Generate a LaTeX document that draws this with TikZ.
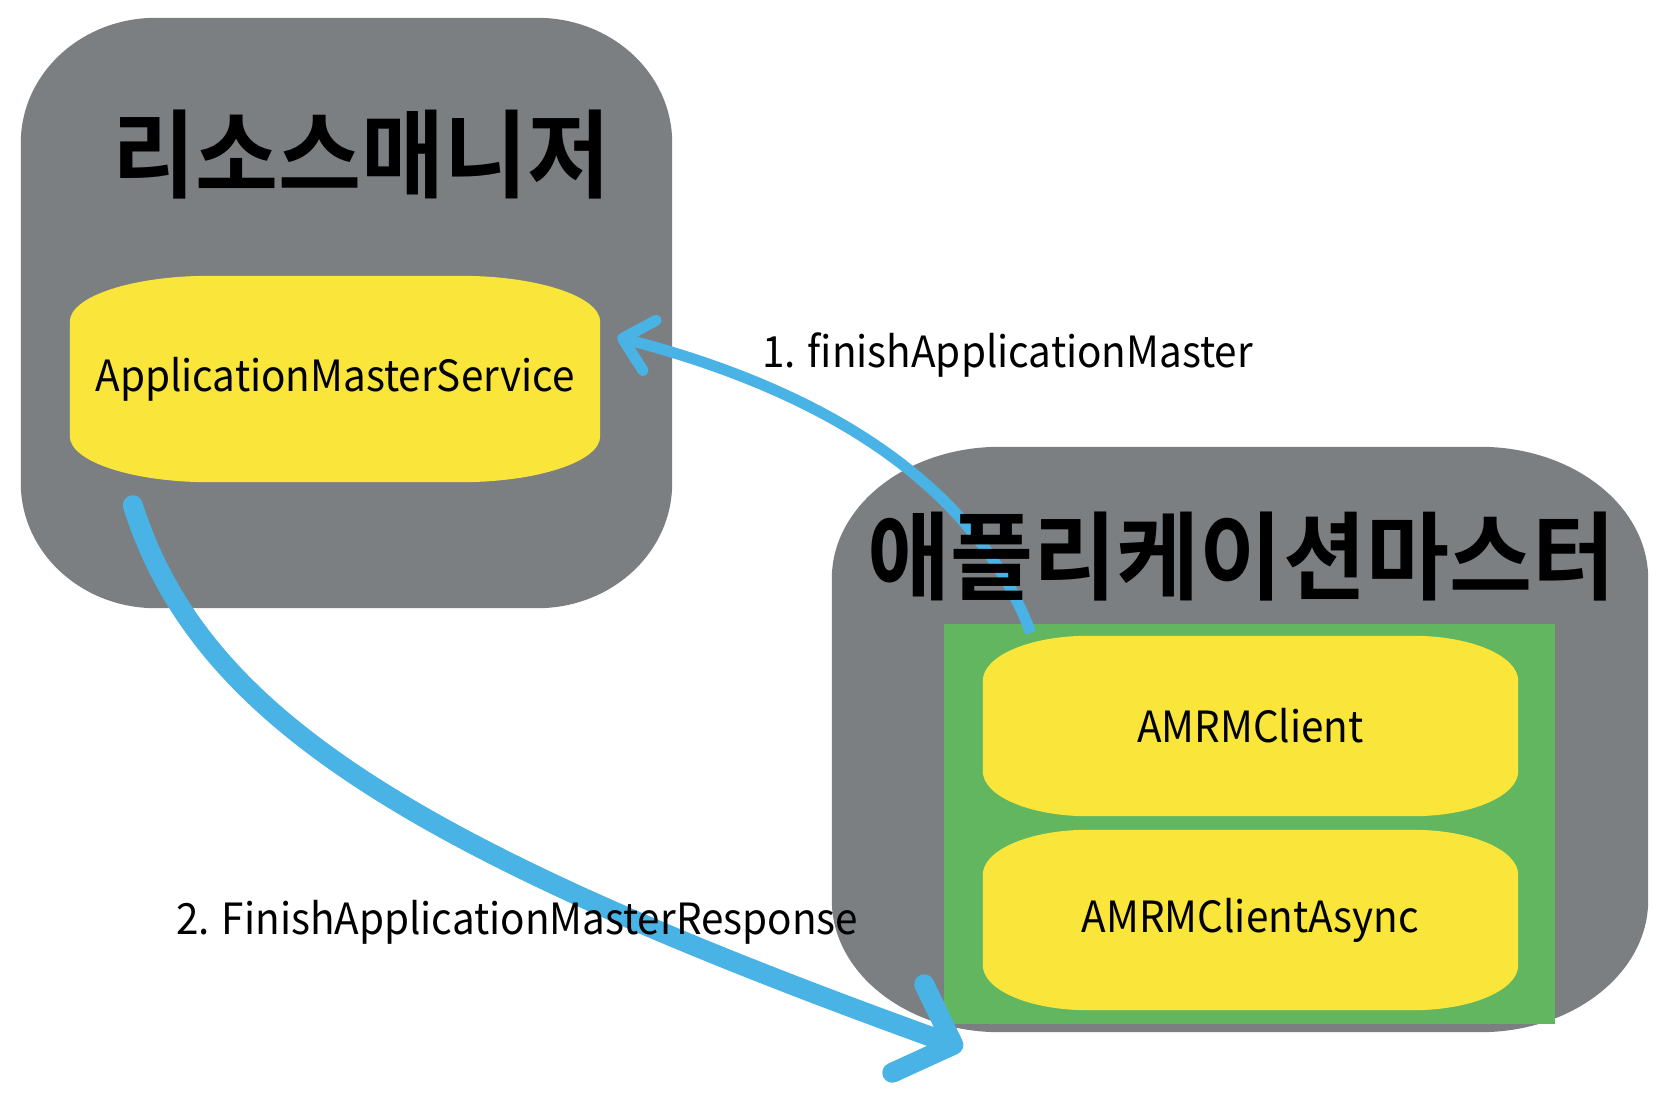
\documentclass[tikz,border=0pt]{standalone}
\usepackage{fontspec}
\setmainfont{Noto Sans CJK KR}[FakeStretch=0.94]
\newfontfamily\titlefont{Noto Sans CJK KR Bold}[FakeStretch=0.94]
\usetikzlibrary{arrows.meta,backgrounds}
\definecolor{boxgray}{RGB}{123,127,129}
\definecolor{boxyellow}{RGB}{250,230,58}
\definecolor{boxgreen}{RGB}{98,182,95}
\definecolor{flowblue}{RGB}{74,179,229}
\newcommand\latfont{\fontsize{43pt}{50pt}\selectfont}
\newcommand\ttlfont{\titlefont\fontsize{96pt}{100pt}\selectfont}
% fill an elliptical-cornered box behind node #1 (rx=#2, ry=#3, colour #4)
\newcommand\ellfill[4]{%
  \fill[#4] ([xshift=#2]#1.south west) -- ([xshift=-#2]#1.south east)
    arc[start angle=-90,end angle=0,x radius=#2,y radius=#3]
    -- ([yshift=-#3]#1.north east)
    arc[start angle=0,end angle=90,x radius=#2,y radius=#3]
    -- ([xshift=#2]#1.north west)
    arc[start angle=90,end angle=180,x radius=#2,y radius=#3]
    -- ([yshift=#3]#1.south west)
    arc[start angle=180,end angle=270,x radius=#2,y radius=#3] -- cycle;}
\begin{document}
\begin{tikzpicture}[x=1pt,y=1pt,
  area/.style 2 args={rectangle, inner sep=0pt, minimum width=#1, minimum height=#2},
  label/.style={anchor=base west, inner sep=0pt, font=\latfont},
  title/.style={inner sep=0pt, font=\ttlfont},
  flowa/.style={draw=flowblue, line width=11pt, -{Straight Barb[length=28pt,width=52pt,round]}},
  flowb/.style={draw=flowblue, line width=20pt, line cap=round, -{Straight Barb[length=48pt,width=94pt,round]}}]
\useasboundingbox (0,0) rectangle (1674,-1112);

% containers and components
\node[area={651pt}{590pt}] (rm) at (346.5,-313) {};
\node[area={530pt}{206pt}, font=\latfont] (ams) at (335,-379) {ApplicationMasterService};
\node[area={816pt}{585pt}] (am) at (1240,-739.5) {};
\node[area={611pt}{400pt}] (grp) at (1249.5,-824) {};
\node[area={535pt}{180pt}, font=\latfont] (amrm) at (1250.5,-726) {AMRMClient};
\node[area={535pt}{180pt}, font=\latfont] (amrma) at (1250.5,-920) {AMRMClientAsync};

\begin{pgfonlayer}{background}
  \fill[white] (0,0) rectangle (1674,-1112);
  \ellfill{rm}{135pt}{125pt}{boxgray}
  \ellfill{am}{168pt}{132pt}{boxgray}
  \fill[boxgreen] (grp.south west) rectangle (grp.north east);
  \ellfill{ams}{140pt}{46pt}{boxyellow}
  \ellfill{amrm}{105pt}{45pt}{boxyellow}
  \ellfill{amrma}{105pt}{45pt}{boxyellow}
\end{pgfonlayer}

% connectors
\draw[flowa] ([shift={(87,-9)}]grp.north west)
  .. controls (978.3,-493.3) and (840,-395) .. ([shift={(17,42)}]ams.east);
\draw[flowb] ([shift={(63,-23)}]ams.south west)
  .. controls (199.2,-714.9) and (405.8,-847.2) .. ([shift={(19,-24)}]grp.south west);

% titles and labels
\node[title] (rmt) at (361.5,-155) {리소스매니저};
\node[title] (amt) at (1241.5,-557) {애플리케이션마스터};
\node[label] (l1) at (762,-367) {1. finishApplicationMaster};
\node[label] (l2) at (176,-934) {2. FinishApplicationMasterResponse};
\end{tikzpicture}
\end{document}
